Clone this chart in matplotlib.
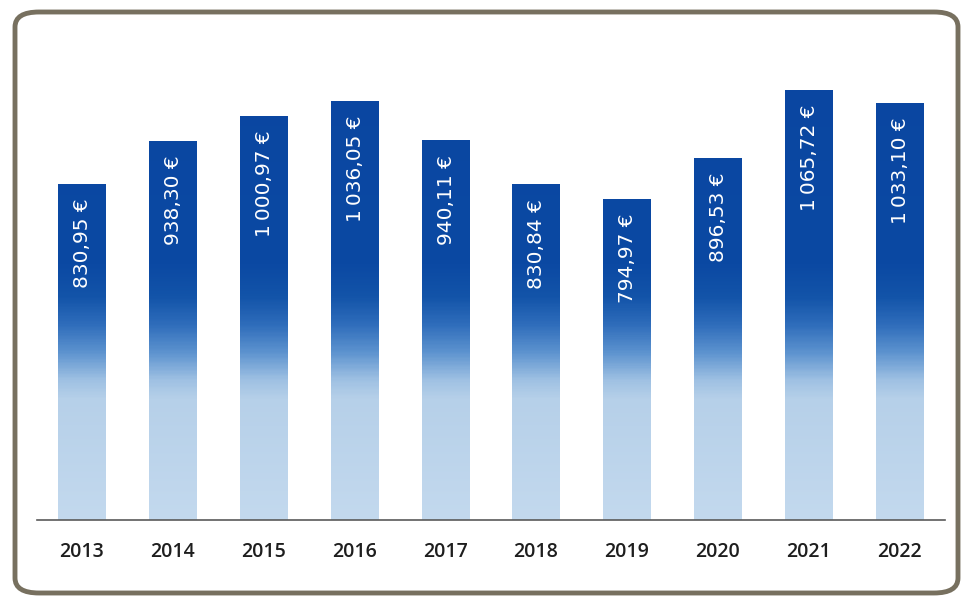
import numpy as np
import matplotlib
matplotlib.use("Agg")
import matplotlib.pyplot as plt
from matplotlib.colors import LinearSegmentedColormap
from matplotlib.patches import FancyBboxPatch

# Average amounts per year
years = ["2013", "2014", "2015", "2016", "2017", "2018", "2019", "2020", "2021", "2022"]
values = [830.95, 938.30, 1000.97, 1036.05, 940.11, 830.84, 794.97, 896.53, 1065.72, 1033.10]
labels = ["830,95 €", "938,30 €", "1\u2009000,97 €", "1\u2009036,05 €", "940,11 €",
          "830,84 €", "794,97 €", "896,53 €", "1\u2009065,72 €", "1\u2009033,10 €"]

plt.rcParams['font.family'] = ['Open Sans', 'DejaVu Sans']

fig = plt.figure(figsize=(9.62, 6.0), dpi=100)
fig.patch.set_facecolor("white")

# rounded frame around the whole chart
frame = FancyBboxPatch((15 / 962, 7 / 600), 943 / 962, 581 / 600,
                       boxstyle="round,pad=0,rounding_size=0.025",
                       transform=fig.transFigure, facecolor="none",
                       edgecolor="#77705f", linewidth=3.5, zorder=0)
fig.patches.append(frame)

ax = fig.add_axes([36.6 / 962, 80 / 600, 908 / 962, 464 / 600])
ax.set_facecolor("none")

# gradient: pale blue at the bottom, deep blue above ~550
cmap = LinearSegmentedColormap.from_list("bars", [
    (0.0, "#c3d9ee"),
    (0.26, "#b6d0e9"),
    (0.30, "#9fc1e3"),
    (0.36, "#5d93cf"),
    (0.42, "#2f6dbb"),
    (0.48, "#1354a9"),
    (0.55, "#0b49a3"),
    (1.0, "#0a46a1"),
])

ymax = 1150
width = 0.52
x = np.arange(len(years))
bars = ax.bar(x, values, width=width, color="none", edgecolor="none")

for b, v in zip(bars, values):
    yy = np.linspace(0, v, 300)
    grad = (yy / ymax)[:, None]
    ax.imshow(grad, extent=(b.get_x(), b.get_x() + b.get_width(), 0, v),
              origin="lower", aspect="auto", cmap=cmap, vmin=0, vmax=1,
              interpolation="bilinear", zorder=2)

for xi, v, lab in zip(x, values, labels):
    ax.annotate(lab, (xi, v), xytext=(1, -14), textcoords="offset pixels",
                rotation=90, ha="center", va="top", color="white",
                fontsize=14.5, family="DejaVu Sans", zorder=3)

ax.set_xlim(-0.5, len(years) - 0.5)
ax.set_ylim(0, ymax)
ax.set_xticks(x)
ax.set_xticklabels(years, fontsize=14, color="#1e1e1e", fontweight="semibold")
ax.tick_params(axis="x", length=0, pad=16)
ax.set_yticks([])
for s in ["top", "left", "right"]:
    ax.spines[s].set_visible(False)
ax.spines["bottom"].set_color("#5a5a5a")
ax.spines["bottom"].set_linewidth(1.2)
ax.spines["bottom"].set_zorder(4)

fig.savefig("out.png", dpi=100)
